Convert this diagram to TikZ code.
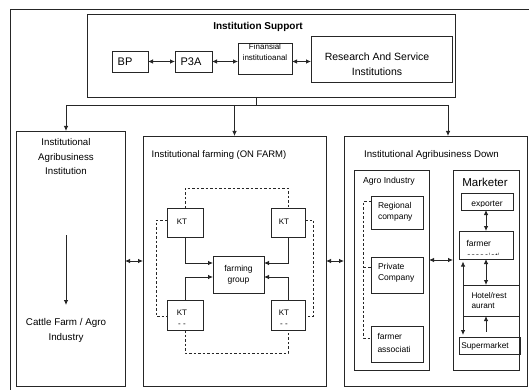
\documentclass[tikz,border=0pt]{standalone}
\usepackage{fontspec}
\setmainfont{Liberation Sans}
\usetikzlibrary{arrows.meta,calc}
\newcommand\myfs[2]{\fontsize{#1}{#2}\selectfont}
\begin{document}
\begin{tikzpicture}[x=1pt,y=-1pt,
  ln/.style={draw=black!85,line width=0.8pt},
  box/.style={ln,rectangle,inner sep=0pt,outer sep=0pt},
  arr/.style={ln,-{Latex[length=5pt,width=4.5pt]}},
  darr/.style={ln,{Latex[length=5pt,width=4.5pt]}-{Latex[length=5pt,width=4.5pt]}},
  dsh/.style={draw=black!85,line width=0.6pt,dash pattern=on 2.5pt off 2pt},
  txt/.style={inner sep=0pt,outer sep=0pt,align=center,text=black},
  ltxt/.style={txt,align=left,anchor=west}]
\useasboundingbox (0,0) rectangle (529,390);
% outer frame
\coordinate (o1) at (10,391);
\coordinate (o2) at (10,9);
\coordinate (o3) at (530,9);
\draw[ln] (o1) -- (o2) -- (o3);

% institution support
\node[box,minimum width=368pt,minimum height=83pt] (isup) at (271,55.5) {};
\node[txt,font=\bfseries\myfs{10}{12}] (isupt) at (258,26.5) {Institution Support};
\node[box,minimum width=36pt,minimum height=21pt] (bp) at (130,61.5) {};
\node[txt,font=\myfs{11}{13}] (bpt) at (125,61.5) {BP};
\node[box,minimum width=37pt,minimum height=21pt] (p3a) at (193.5,61.5) {};
\node[txt,font=\myfs{11}{13}] (p3at) at (191,61.5) {P3A};
\node[box,minimum width=54pt,minimum height=31pt] (fin) at (265,58.5) {};
\node[txt,font=\myfs{8}{11}] (fint) at (265,52.5) {Finansial\\institutioanal};
\node[box,minimum width=141pt,minimum height=46pt] (res) at (381.5,59) {};
\node[txt,font=\myfs{10.5}{15}] (rest) at (377,64) {Research And Service\\Institutions};
\draw[darr] (bp.east) -- (p3a.west);
\draw[darr] (p3a.east) -- (p3a.east -| fin.west);
\draw[darr] (fin.east |- p3a.east) -- (res.west |- p3a.east);

% three columns
\node[box,minimum width=109pt,minimum height=255pt] (left) at (70.5,258.5) {};
\node[box,minimum width=183pt,minimum height=250pt] (mid) at (234.5,261) {};
\node[box,minimum width=183.5pt,minimum height=250pt] (right) at (435.75,261) {};

% tree
\coordinate (j) at (256,105);
\coordinate (jl) at (66,105);
\coordinate (jr) at (448,105);
\draw[ln] (j |- isup.south) -- (j);
\draw[ln] (jl) -- (jr);
\draw[arr] (jl) -- (jl |- left.north);
\draw[arr] (mid.north |- j) -- (mid.north);
\draw[arr] (jr) -- (jr |- right.north);

% left column
\node[txt,font=\myfs{9.7}{14.5}] (leftt) at (66,157) {Institutional\\Agribusiness\\Institution};
\node[txt,font=\myfs{9.8}{15}] (cattle) at (66,330.5) {Cattle Farm / Agro\\Industry};
\coordinate (ca) at (66,235);
\coordinate (cb) at (66,305);
\draw[arr] (ca) -- (cb);

\draw[darr] (left.east |- mid.west) -- (mid.west);
\draw[darr] (mid.east) -- (right.west);

% middle column
\node[txt,font=\myfs{9.5}{12}] (midt) at (219,155) {Institutional farming (ON FARM)};
\node[box,minimum width=36pt,minimum height=29pt] (kt1) at (185,222.5) {};
\node[box,minimum width=34pt,minimum height=29pt] (kt2) at (288,222.5) {};
\node[box,minimum width=51pt,minimum height=37pt] (fg) at (238.5,274.5) {};
\node[box,minimum width=36pt,minimum height=30pt] (kt3) at (185,315) {};
\node[box,minimum width=34pt,minimum height=30pt] (kt4) at (288,315) {};
\node[txt,font=\myfs{8}{10}] (kt1t) at (182,222) {KT};
\node[txt,font=\myfs{8}{10}] (kt2t) at (284,222) {KT};
\node[txt,font=\myfs{8}{11}] (kt3t) at (182,318) {KT\\- -};
\node[txt,font=\myfs{8}{11}] (kt4t) at (284,318) {KT\\- -};
\node[txt,font=\myfs{8.5}{11}] (fgt) at (238.5,274.5) {farming\\group};
\draw[arr] (kt1.south) |- ($(fg.west)+(0,-11.5)$);
\draw[arr] (kt3.north) |- ($(fg.west)+(0,2.5)$);
\draw[arr] (kt2.south) |- ($(fg.east)+(0,-11.5)$);
\draw[arr] (kt4.north) |- ($(fg.east)+(0,2.5)$);
\draw[dsh] (kt1.north) -- ++(0,-20) -| (kt2.north);
\draw[dsh] (kt3.south) -- ++(0,23) -| (kt4.south);
\draw[dsh] ($(kt1.west)+(0,-2.5)$) -- ++(-11,0) |- ($(kt3.west)+(0,1)$);
\draw[dsh] ($(kt2.east)+(0,-2.5)$) -- ++(8.5,0) |- ($(kt4.east)+(0,1)$);

% right column
\node[txt,font=\myfs{9.7}{12}] (rightt) at (431.5,155) {Institutional Agribusiness Down};
\node[box,minimum width=75pt,minimum height=200pt] (agro) at (391.5,270) {};
\node[ltxt,font=\myfs{8.7}{11}] (agrot) at (363,181) {Agro Industry};
\node[box,minimum width=52pt,minimum height=33pt] (reg) at (397,212.5) {};
\node[box,minimum width=52pt,minimum height=36pt] (priv) at (397,275) {};
\node[box,minimum width=52pt,minimum height=36pt] (fass) at (397,344) {};
\node[ltxt,font=\myfs{8.5}{11.3}] (regt) at (378,212) {Regional\\company};
\node[ltxt,font=\myfs{8.5}{11.3}] (privt) at (378,273) {Private\\Company};
\node[ltxt,font=\myfs{8.5}{13}] (fasst) at (377.5,343) {farmer\\associati};
\coordinate (d1) at (363.5,201);
\coordinate (d2) at (363.5,338);
\coordinate (d3) at (363.5,267);
\draw[dsh] (reg.west |- d1) -- (d1) -- (d2) -- (fass.west |- d2);
\draw[dsh] (d3) -- (priv.west |- d3);

\node[box,minimum width=66pt,minimum height=200pt] (mkt) at (486,270) {};
\node[txt,font=\myfs{11.5}{13}] (mktt) at (485,182.5) {Marketer};
\node[box,minimum width=52pt,minimum height=17pt] (exp) at (487,201.5) {};
\node[box,minimum width=54pt,minimum height=28pt] (mfarm) at (486,245) {};
\node[box,minimum width=61pt,minimum height=17pt] (sup) at (489.5,345.5) {};
\node[inner sep=0pt,outer sep=0pt,minimum width=56pt,minimum height=31pt] (hotel) at (491,300.5) {};
\draw[ln] (hotel.north west) -- (hotel.north east);
\draw[ln] (hotel.south west) -- (hotel.south east);
\node[ltxt,font=\myfs{8.2}{10.5}] (hotelt) at (471.5,300.5) {Hotel/rest\\aurant};
\begin{scope}
  \clip (exp.north west) rectangle ($(exp.south east)+(0,-3.6)$);
  \node[txt,font=\myfs{8.5}{10},anchor=base] (expt) at (487,206) {exporter};
\end{scope}
\node[txt,font=\myfs{8.5}{10},anchor=base west] (mfarmt) at (466.5,246) {farmer};
\begin{scope}
  \clip (mfarm.north west) rectangle ($(mfarm.south east)+(0,-4.2)$);
  \node[txt,font=\myfs{8.5}{10},anchor=base west] (mfarmt2) at (466.5,259.6) {associati};
\end{scope}
\begin{scope}
  \clip (sup.north west) rectangle ($(sup.south east)+(0,-5)$);
  \node[txt,font=\myfs{8.3}{10},anchor=base] (supt) at (485,348.3) {Supermarket};
\end{scope}
\draw[darr] (exp.south -| mfarm.north) -- (mfarm.north);
\draw[darr] (mfarm.south) -- (mfarm.south |- hotel.north);
\coordinate (su) at (486,331.5);
\draw[arr] (su) -- (su |- hotel.south);
\coordinate (la) at (463,261.5);
\coordinate (lb) at (463,335);
\draw[darr] (la) -- (lb);
\draw[darr] ($(agro.east)+(0,-10)$) -- ($(mkt.west)+(0,-10)$);
\end{tikzpicture}
\end{document}
